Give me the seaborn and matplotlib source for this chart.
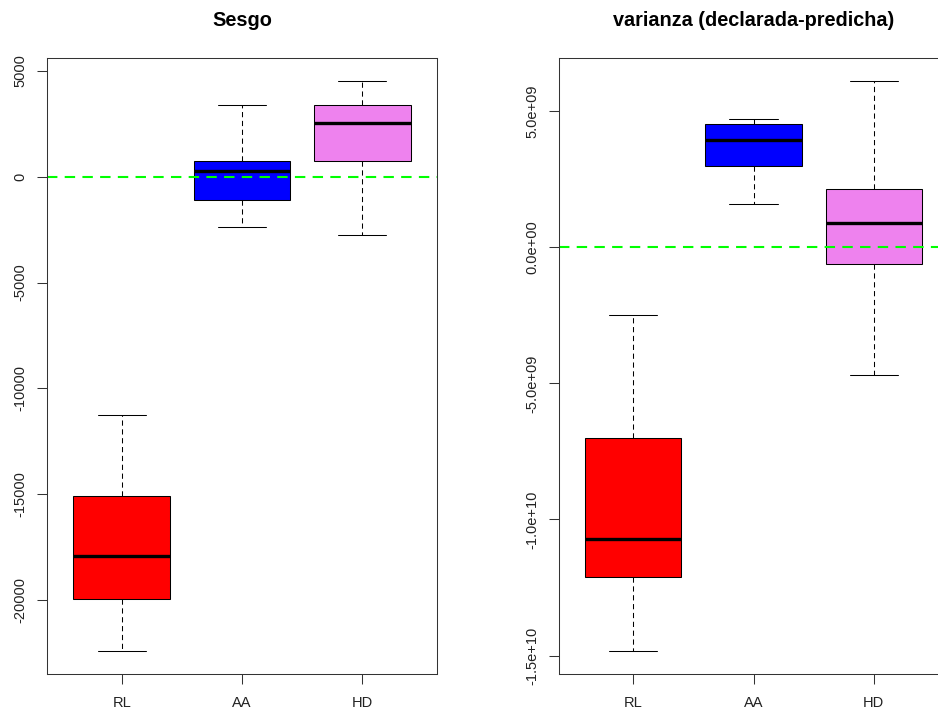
import pandas as pd
import seaborn as sns
import matplotlib.pyplot as plt

# Grupos y colores
grupos = ['RL', 'AA', 'HD']
colores = ['red', 'blue', 'violet']

# Cinco números por grupo (mínimo, Q1, mediana, Q3, máximo)
sesgo_rl = [-22400, -19920, -17890, -15090, -11250]
sesgo_aa = [-2360, -1090, 270, 740, 3370]
sesgo_hd = [-2780, 740, 2550, 3400, 4520]

var_rl = [-1.484e10, -1.212e10, -1.073e10, -7.01e9, -2.48e9]
var_aa = [1.61e9, 3.00e9, 3.94e9, 4.55e9, 4.73e9]
var_hd = [-4.70e9, -0.61e9, 0.90e9, 2.13e9, 6.12e9]

# Marcas de los ejes
ticks_sesgo = [5000, 0, -5000, -10000, -15000, -20000]
etiquetas_sesgo = ['5000', '0', '-5000', '-10000', '-15000', '-20000']
ticks_var = [5e9, 0, -5e9, -1e10, -1.5e10]
etiquetas_var = ['5.0e+09', '0.0e+00', '-5.0e+09', '-1.0e+10', '-1.5e+10']


def armar_tabla(rl, aa, hd):
    return pd.DataFrame({
        'grupo': ['RL'] * len(rl) + ['AA'] * len(aa) + ['HD'] * len(hd),
        'valor': rl + aa + hd,
    })


sesgo = armar_tabla(sesgo_rl, sesgo_aa, sesgo_hd)
varianza = armar_tabla(var_rl, var_aa, var_hd)

sns.set_style('ticks')
plt.rcParams['font.family'] = ['Liberation Sans', 'DejaVu Sans']

fig = plt.figure(figsize=(9.38, 7.13), dpi=100)
ax1 = fig.add_axes([47 / 938, 39 / 713, 390 / 938, 616 / 713])
ax2 = fig.add_axes([559 / 938, 39 / 713, 389 / 938, 616 / 713])


def caja(ax, datos, titulo, ticks, etiquetas):
    sns.boxplot(data=datos, x='grupo', y='valor', hue='grupo', order=grupos,
                hue_order=grupos, palette=colores, saturation=1, width=0.8,
                whis=(0, 100), linecolor='black', linewidth=0.75,
                legend=False, ax=ax,
                medianprops={'color': 'black', 'linewidth': 2.4},
                whiskerprops={'color': 'black', 'linewidth': 0.75,
                              'linestyle': (0, (5, 3.5))},
                capprops={'color': 'black', 'linewidth': 0.75})
    ax.axhline(0, color='#00FF00', linewidth=1.5, dashes=(5, 3.5))

    # limites al estilo R: rango de los datos +/- 4 %
    vmin, vmax = datos['valor'].min(), datos['valor'].max()
    extra = 0.04 * (vmax - vmin)
    ax.set_ylim(vmin - extra, vmax + extra)
    ax.set_xlim(-0.62, 2.62)

    ax.set_yticks(ticks)
    ax.set_yticklabels(etiquetas, rotation=90, va='center')
    ax.set_xlabel('')
    ax.set_ylabel('')
    ax.set_title(titulo, fontweight='bold', fontsize=14.3, pad=23,
                 color='black')
    ax.tick_params(axis='both', length=7, width=0.75, color='#333333',
                   labelsize=10.5, labelcolor='#222222')
    ax.tick_params(axis='y', pad=7)
    ax.tick_params(axis='x', pad=9)
    for lado in ['top', 'right', 'bottom', 'left']:
        ax.spines[lado].set_visible(True)
        ax.spines[lado].set_linewidth(0.75)
        ax.spines[lado].set_color('#333333')


caja(ax1, sesgo, 'Sesgo', ticks_sesgo, etiquetas_sesgo)
caja(ax2, varianza, 'varianza (declarada-predicha)', ticks_var, etiquetas_var)

fig.savefig('out.png', dpi=100)
